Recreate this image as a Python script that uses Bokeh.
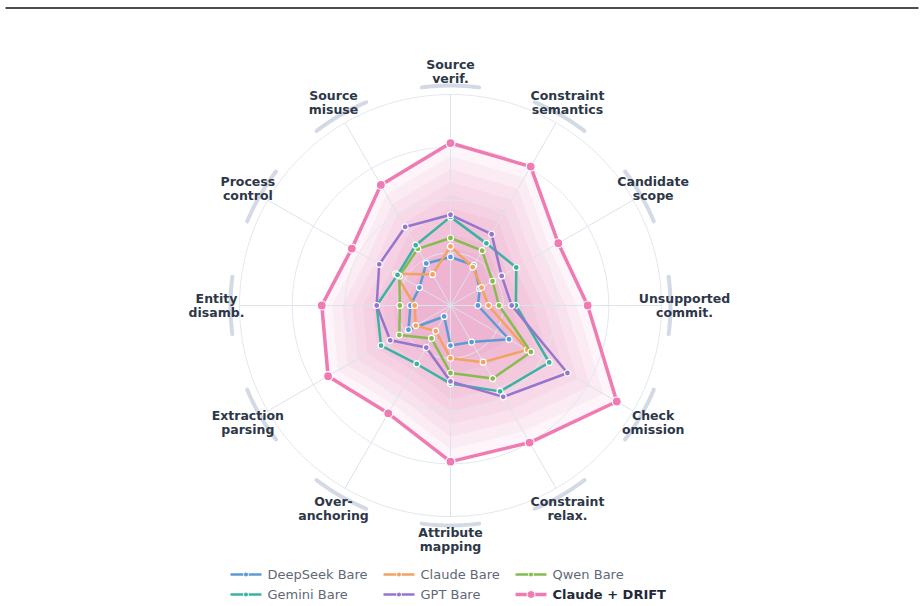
import numpy as np
from bokeh.plotting import figure
from bokeh.models import Range1d
from bokeh.core.properties import value
from bokeh.embed import file_html
from bokeh.resources import INLINE

# Error categories, clockwise from the top
categories = [
    "Source\nverif.", "Constraint\nsemantics", "Candidate\nscope", "Unsupported\ncommit.",
    "Check\nomission", "Constraint\nrelax.", "Attribute\nmapping", "Over-\nanchoring",
    "Extraction\nparsing", "Entity\ndisamb.", "Process\ncontrol", "Source\nmisuse",
]

deepseek_bare = [23, 22, 16, 13, 32, 20, 19, 6, 23, 19, 17, 23]
claude_bare = [28, 21, 17, 18, 42, 31, 25, 14, 19, 17, 30, 17]
qwen_bare = [32, 30, 23, 23, 44, 40, 32, 18, 28, 24, 28, 31]
gemini_bare = [42, 34, 36, 31, 54, 47, 37, 32, 38, 35, 29, 33]
gpt_bare = [43, 39, 28, 29, 64, 50, 36, 23, 33, 35, 39, 43]
claude_drift = [77, 76, 59, 65, 91, 75, 74, 59, 67, 61, 54, 66]

series_names = ["DeepSeek Bare", "Claude Bare", "Qwen Bare", "Gemini Bare", "GPT Bare", "Claude + DRIFT"]
series_values = [deepseek_bare, claude_bare, qwen_bare, gemini_bare, gpt_bare, claude_drift]
series_colors = ["#5b9bd5", "#f4a261", "#86bc4f", "#3bb3a0", "#9575cd", "#f07ab2"]

ring_levels = [25, 50, 75, 100]
VMAX = 100

# canvas geometry (pixel-like units, y grows downward)
W, H = 921, 606
CX, CY = 450, 305
R = 211

n = len(categories)
angles = np.arange(n) * 2 * np.pi / n


def to_xy(vals, scale=1.0):
    v = np.asarray(vals, dtype=float) / VMAX * R * scale
    return CX + v * np.sin(angles), CY - v * np.cos(angles)


p = figure(width=W, height=H, output_backend="svg", toolbar_location=None,
           x_range=Range1d(0, W), y_range=Range1d(H, 0), min_border=0)
p.axis.visible = False
p.grid.visible = False
p.outline_line_color = None
p.background_fill_color = "white"
p.border_fill_color = "white"

# top rule
p.segment(x0=[5], y0=[7.5], x1=[918], y1=[7.5], line_color="#4d4d4d", line_width=2)

# soft gradient fill under the DRIFT polygon
for s in [1.0, 0.92, 0.84, 0.76, 0.68, 0.6, 0.52, 0.44, 0.36]:
    fx, fy = to_xy(claude_drift, s)
    p.patch(list(fx), list(fy), fill_color="#dd5c9a", fill_alpha=0.06, line_color=None)

# rings and spokes
t = np.linspace(0, 2 * np.pi, 241)
for lvl in ring_levels:
    rr = lvl / VMAX * R
    p.line(CX + rr * np.sin(t), CY - rr * np.cos(t), line_color="#e2e8f0", line_width=1)
p.segment(x0=[CX] * n, y0=[CY] * n,
          x1=list(CX + R * np.sin(angles)), y1=list(CY - R * np.cos(angles)),
          line_color="#dde3ec", line_width=1)

# short arcs marking each category
arc_r = 220
half = np.deg2rad(7.5)
xs, ys = [], []
for a in angles:
    tt = np.linspace(a - half, a + half, 20)
    xs.append(list(CX + arc_r * np.sin(tt)))
    ys.append(list(CY - arc_r * np.cos(tt)))
p.multi_line(xs, ys, line_color="#d3dae5", line_width=4, line_cap="round")

# series
for name, vals, col in zip(series_names, series_values, series_colors):
    x, y = to_xy(vals)
    xc, yc = list(x) + [x[0]], list(y) + [y[0]]
    drift = name == "Claude + DRIFT"
    p.line(xc, yc, line_color=col, line_width=3.5 if drift else 2.5, line_join="round")
    p.scatter(list(x), list(y), size=9 if drift else 6, fill_color=col,
              line_color="white", line_width=1.2)

# category labels
lab_r = 234
lx = CX + lab_r * np.sin(angles)
ly = CY - lab_r * np.cos(angles)
tx, ty, tt_ = [], [], []
for xx, yy, lab in zip(lx, ly, categories):
    lines = lab.split("\n")
    for i, ln in enumerate(lines):
        tx.append(xx)
        ty.append(yy + (i - (len(lines) - 1) / 2) * 14)
        tt_.append(ln)
p.text(tx, ty, text=tt_, text_align="center", text_baseline="middle",
       text_font=value("DejaVu Sans"), text_font_style="bold",
       text_font_size="12.5px", text_color="#2d3748")

# legend
col_x = [230, 383, 515]
row_y = [574, 594]
for i, (name, col) in enumerate(zip(series_names, series_colors)):
    x0 = col_x[i % 3]
    y0 = row_y[i // 3]
    drift = name == "Claude + DRIFT"
    p.segment(x0=[x0], y0=[y0], x1=[x0 + 31], y1=[y0], line_color=col,
              line_width=3.5 if drift else 2.5)
    p.scatter([x0 + 15.5], [y0], size=8 if drift else 5, fill_color=col,
              line_color="white", line_width=1)
    p.text([x0 + 37], [y0], text=[name], text_align="left", text_baseline="middle",
           text_font=value("DejaVu Sans"), text_font_size="13px",
           text_font_style="bold" if drift else "normal",
           text_color="#1f2937" if drift else "#5f6878")

open("out.html", "w").write(file_html(p, INLINE))
